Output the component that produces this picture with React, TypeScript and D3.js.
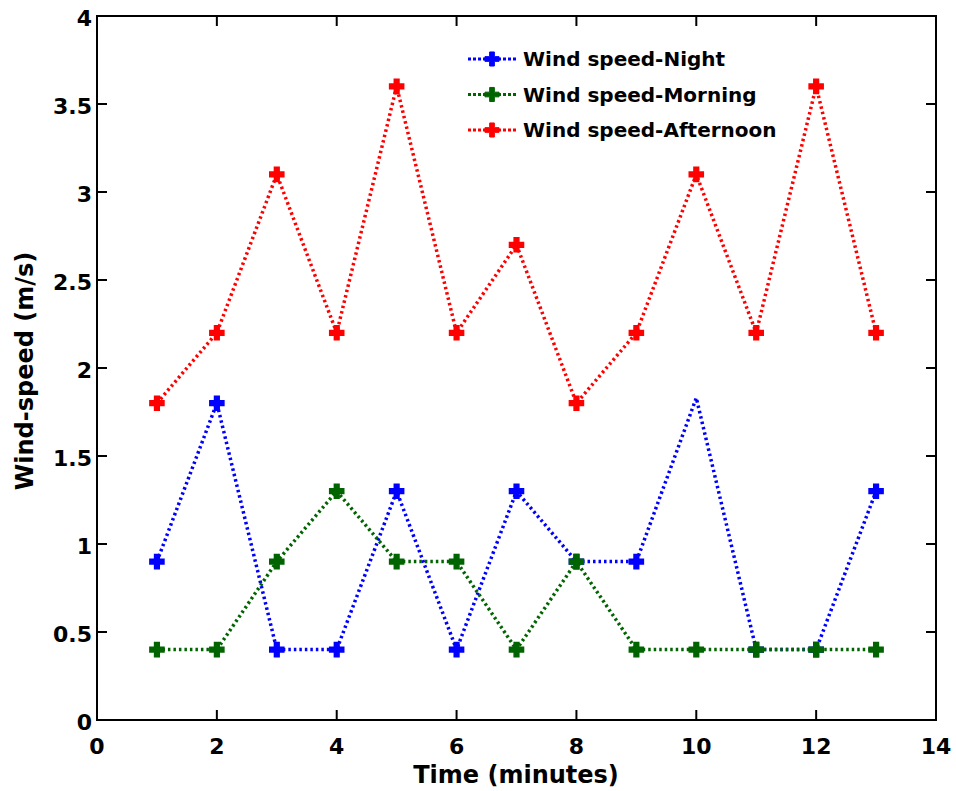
import React from "react";
import * as d3 from "d3";

const timeMinutes = [1, 2, 3, 4, 5, 6, 7, 8, 9, 10, 11, 12, 13];
const nightSpeed = [0.9, 1.8, 0.4, 0.4, 1.3, 0.4, 1.3, 0.9, 0.9, 1.83, 0.4, 0.4, 1.3];
const morningSpeed = [0.4, 0.4, 0.9, 1.3, 0.9, 0.9, 0.4, 0.9, 0.4, 0.4, 0.4, 0.4, 0.4];
const afternoonSpeed = [1.8, 2.2, 3.1, 2.2, 3.6, 2.2, 2.7, 1.8, 2.2, 3.1, 2.2, 3.6, 2.2];
// the night series has no visible marker at minute 10 in the source
const nightMarkerShown = [true, true, true, true, true, true, true, true, true, false, true, true, true];
const xTicks = [0, 2, 4, 6, 8, 10, 12, 14];
const yTicks = [0, 0.5, 1, 1.5, 2, 2.5, 3, 3.5, 4];
const yTickLabels = ["0", "0.5", "1", "1.5", "2", "2.5", "3", "3.5", "4"];
const seriesNames = ["Wind speed-Night", "Wind speed-Morning", "Wind speed-Afternoon"];
const seriesColors = ["#0000ff", "#006400", "#ff0000"];

const W = 956, H = 791;
const left = 97, right = 936, top = 16, bottom = 720;
const font = "'DejaVu Sans', Arial, sans-serif";

export default function App() {
  const x = d3.scaleLinear().domain([0, 14]).range([left, right]);
  const y = d3.scaleLinear().domain([0, 4]).range([bottom, top]);
  const series = [nightSpeed, morningSpeed, afternoonSpeed];
  const shown = [nightMarkerShown, null, null];
  const line = d3.line<number>().x((_, i) => x(timeMinutes[i])).y((d) => y(d));
  const marker = d3.symbol().type(d3.symbolCross).size(110)();
  const tickLen = 10;

  return (
    <svg width={W} height={H} style={{ position: "absolute", left: 0, top: 0, background: "#fff" }}>
      <rect x={0} y={0} width={W} height={H} fill="#fff" />
      {series.map((s, si) => (
        <g key={si}>
          <path d={line(s) || ""} fill="none" stroke={seriesColors[si]} strokeWidth={3.5} strokeDasharray="2.5,3" />
          {s.map((v, i) =>
            shown[si] && !shown[si]![i] ? null : (
              <path key={i} d={marker} transform={`translate(${x(timeMinutes[i])},${y(v)})`} fill={seriesColors[si]} stroke={seriesColors[si]} strokeWidth={1.5} />
            )
          )}
        </g>
      ))}
      <rect x={left} y={top} width={right - left} height={bottom - top} fill="none" stroke="#000" strokeWidth={2} />
      {xTicks.map((t) => (
        <g key={"x" + t}>
          <line x1={x(t)} x2={x(t)} y1={bottom} y2={bottom - tickLen} stroke="#000" strokeWidth={2} />
          <line x1={x(t)} x2={x(t)} y1={top} y2={top + tickLen} stroke="#000" strokeWidth={2} />
          <text x={x(t)} y={754} textAnchor="middle" fontFamily={font} fontWeight="bold" fontSize={22}>{t}</text>
        </g>
      ))}
      {yTicks.map((t, i) => (
        <g key={"y" + t}>
          <line x1={left} x2={left + tickLen} y1={y(t)} y2={y(t)} stroke="#000" strokeWidth={2} />
          <line x1={right} x2={right - tickLen} y1={y(t)} y2={y(t)} stroke="#000" strokeWidth={2} />
          <text x={92} y={y(t) + 10} textAnchor="end" fontFamily={font} fontWeight="bold" fontSize={22}>{yTickLabels[i]}</text>
        </g>
      ))}
      <text x={516} y={783} textAnchor="middle" fontFamily={font} fontWeight="bold" fontSize={24}>Time (minutes)</text>
      <text transform={`translate(33,371) rotate(-90)`} textAnchor="middle" fontFamily={font} fontWeight="bold" fontSize={24}>Wind-speed (m/s)</text>
      {seriesNames.map((n, i) => {
        const ly = 59 + i * 35.5;
        return (
          <g key={n}>
            <line x1={468} x2={517} y1={ly} y2={ly} stroke={seriesColors[i]} strokeWidth={3} strokeDasharray="3,2" />
            <path d={marker} transform={`translate(492,${ly})`} fill={seriesColors[i]} stroke={seriesColors[i]} strokeWidth={1} />
            <text x={523} y={ly + 7} fontFamily={font} fontWeight="bold" fontSize={20}>{n}</text>
          </g>
        );
      })}
    </svg>
  );
}
